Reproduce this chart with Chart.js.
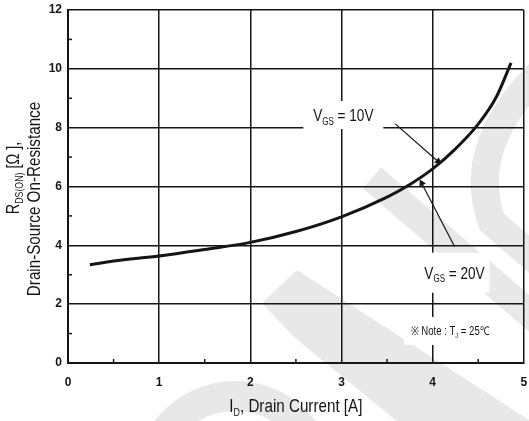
<!DOCTYPE html>
<html>
<head>
<meta charset="utf-8">
<script src="https://cdn.jsdelivr.net/npm/chart.js@4.4.0/dist/chart.umd.min.js"></script>
<style>
	html, body { margin: 0; padding: 0; background: #fff; }
	canvas { display: block; }
</style>
</head>
<body>
<canvas id="rdson_chart" width="529" height="421"></canvas>
<script>
// values
const drain_current = [0.24, 0.5, 1, 1.5, 2, 2.5, 3, 3.5, 3.75, 4, 4.25, 4.5, 4.7, 4.86];
const on_resistance = [3.34, 3.47, 3.64, 3.86, 4.1, 4.47, 4.97, 5.64, 6.07, 6.6, 7.28, 8.12, 9.05, 10.2];

const x_minor = [0.5, 1.5, 2.5, 3.5, 4.5];
const y_minor = [1, 3, 5, 7, 9, 11];

// leader lines for the two gate voltage labels
const lead_10v_x = [3.59, 4.06];
const lead_10v_y = [8.13, 6.85];
const lead_20v_x = [4.24, 3.88];
const lead_20v_y = [3.96, 6.11];

const font_family = '"Liberation Sans", Arial, sans-serif';
const ink = "#151515";
const narrow = 0.8; // the original lettering is a condensed face

// text parts: [text, is_subscript]
const notes = [
	{ x: 3.02, y: 8.43, size: 17, box_w: 80, box_h: 28, parts: [["V", 0], ["GS", 1], [" = 10V", 0]] },
	{ x: 4.24, y: 3.07, size: 17, box_w: 70, box_h: 40, parts: [["V", 0], ["GS", 1], [" = 20V", 0]] },
	{ x: 4.19, y: 1.09, size: 12, box_w: 92, box_h: 28, parts: [["\u203B Note : T", 0], ["J", 1], [" = 25\u2103", 0]] },
];

function to_points(xs, ys) {
	let pts = [];
	for (let i = 0; i < xs.length; i++) {
		pts.push({ x: xs[i], y: ys[i] });
	}
	return pts;
}

function parts_width(ctx, parts, size) {
	let w = 0;
	for (const p of parts) {
		ctx.font = `${p[1] ? Math.round(size * 0.6) : size}px ${font_family}`;
		w += ctx.measureText(p[0]).width;
	}
	return w;
}

// draws condensed text with subscripts, centered on x, baseline at y
function draw_parts(ctx, parts, x, y, size) {
	let w = parts_width(ctx, parts, size);
	ctx.save();
	ctx.translate(x, y);
	ctx.scale(narrow, 1);
	let cx = -w / 2;
	ctx.textAlign = "left";
	ctx.textBaseline = "alphabetic";
	for (const p of parts) {
		let sub = p[1];
		ctx.font = `${sub ? Math.round(size * 0.6) : size}px ${font_family}`;
		ctx.fillText(p[0], cx, sub ? size * 0.22 : 0);
		cx += ctx.measureText(p[0]).width;
	}
	ctx.restore();
}

// faint grey watermark behind the chart
const watermark = {
	id: "watermark",
	beforeDraw(chart) {
		const ctx = chart.ctx;
		ctx.save();
		ctx.strokeStyle = "#e8e8e8";
		ctx.fillStyle = "#e8e8e8";
		ctx.lineCap = "butt";

		ctx.lineWidth = 28;
		ctx.beginPath();
		ctx.moveTo(556, 58);
		ctx.quadraticCurveTo(462, 140, 492, 222);
		ctx.lineTo(545, 268);
		ctx.stroke();

		ctx.beginPath();
		ctx.moveTo(372, 178);
		ctx.lineTo(560, 340);
		ctx.stroke();

		ctx.beginPath();
		ctx.moveTo(262, 303);
		ctx.lineTo(297, 270);
		ctx.lineTo(560, 440);
		ctx.lineTo(420, 440);
		ctx.lineTo(295, 338);
		ctx.closePath();
		ctx.fill();

		ctx.lineWidth = 30;
		ctx.beginPath();
		ctx.arc(235, 482, 86, Math.PI * 1.05, Math.PI * 1.95);
		ctx.stroke();
		ctx.restore();
	},
};

const extras = {
	id: "extras",
	beforeDatasetsDraw(chart) {
		const { ctx, scales } = chart;
		ctx.save();
		for (const n of notes) {
			let px = scales.x.getPixelForValue(n.x);
			let py = scales.y.getPixelForValue(n.y);
			ctx.fillStyle = "#fff";
			ctx.fillRect(px - n.box_w / 2, py - n.box_h / 2, n.box_w, n.box_h);
			ctx.fillStyle = ink;
			draw_parts(ctx, n.parts, px, py + n.size * 0.35, n.size);
		}
		ctx.restore();
	},
	afterDatasetsDraw(chart) {
		const { ctx, chartArea, scales } = chart;
		ctx.save();
		ctx.strokeStyle = ink;
		ctx.lineWidth = 1.5;
		for (const v of x_minor) {
			let px = scales.x.getPixelForValue(v);
			ctx.beginPath();
			ctx.moveTo(px, chartArea.bottom);
			ctx.lineTo(px, chartArea.bottom - 4);
			ctx.stroke();
		}
		for (const v of y_minor) {
			let py = scales.y.getPixelForValue(v);
			ctx.beginPath();
			ctx.moveTo(chartArea.left, py);
			ctx.lineTo(chartArea.left + 4, py);
			ctx.stroke();
		}

		// axis titles
		ctx.fillStyle = ink;
		let mid_x = (chartArea.left + chartArea.right) / 2;
		draw_parts(ctx, [["I", 0], ["D", 1], [", Drain Current [A]", 0]], mid_x, 412, 19);

		ctx.save();
		ctx.translate(19, 178);
		ctx.rotate(-Math.PI / 2);
		draw_parts(ctx, [["R", 0], ["DS(ON)", 1], [" [\u03A9 ],", 0]], 0, 0, 18);
		ctx.restore();
		ctx.save();
		ctx.translate(40, 199);
		ctx.rotate(-Math.PI / 2);
		draw_parts(ctx, [["Drain-Source On-Resistance", 0]], 0, 0, 19);
		ctx.restore();
		ctx.restore();
	},
};

const ctx = document.getElementById("rdson_chart").getContext("2d");

const myChart = new Chart(ctx, {
	type: "scatter",
	data: {
		datasets: [
			{
				label: "RDS(ON)",
				data: to_points(drain_current, on_resistance),
				showLine: true,
				borderColor: ink,
				borderWidth: 3,
				pointRadius: 0,
				cubicInterpolationMode: "monotone",
			},
			{
				label: "VGS = 10V",
				data: to_points(lead_10v_x, lead_10v_y),
				showLine: true,
				borderColor: ink,
				backgroundColor: ink,
				borderWidth: 1.2,
				pointRadius: [0, 3],
				pointStyle: "triangle",
				rotation: 131,
			},
			{
				label: "VGS = 20V",
				data: to_points(lead_20v_x, lead_20v_y),
				showLine: true,
				borderColor: ink,
				backgroundColor: ink,
				borderWidth: 1.2,
				pointRadius: [0, 3],
				pointStyle: "triangle",
				rotation: -28,
			},
		],
	},
	options: {
		responsive: false,
		animation: false,
		layout: { padding: { top: 10, left: 0, right: 0, bottom: 0 } },
		plugins: {
			legend: { display: false },
			tooltip: { enabled: false },
		},
		scales: {
			x: {
				type: "linear",
				min: 0,
				max: 5,
				ticks: {
					stepSize: 1,
					padding: 12,
					color: ink,
					font: { family: "Liberation Sans", size: 12, weight: "bold" },
				},
				grid: { color: ink, lineWidth: 1.5, drawTicks: false },
				border: { color: ink, width: 2 },
				afterFit: function (scale) {
					scale.height = 58;
					scale.paddingLeft = 0;
					scale.paddingRight = 0;
				},
			},
			y: {
				type: "linear",
				min: 0,
				max: 12,
				ticks: {
					stepSize: 2,
					padding: 6,
					color: ink,
					font: { family: "Liberation Sans", size: 12, weight: "bold" },
				},
				grid: { color: ink, lineWidth: 1.5, drawTicks: false },
				border: { color: ink, width: 2 },
				afterFit: function (scale) {
					scale.width = 68;
					scale.paddingTop = 0;
					scale.paddingBottom = 0;
				},
			},
		},
	},
	plugins: [watermark, extras],
});
</script>
</body>
</html>
